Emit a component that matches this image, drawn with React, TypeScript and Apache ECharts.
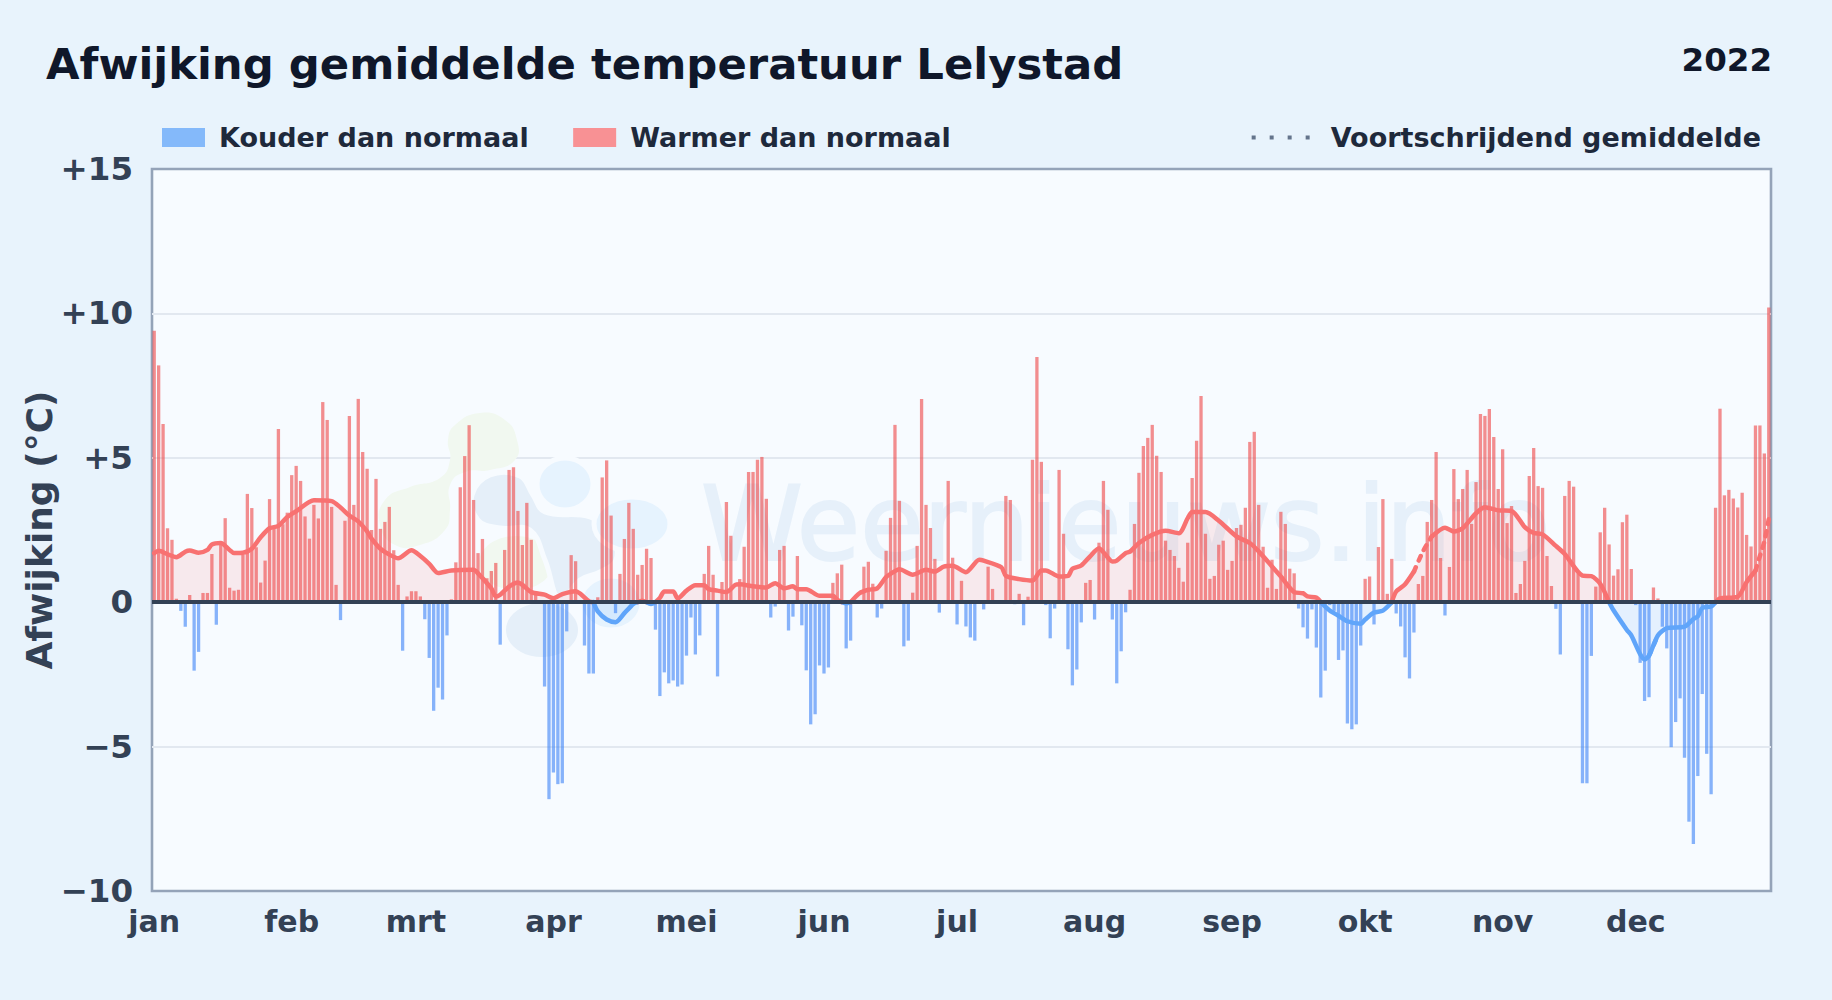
import React, { useEffect, useRef } from "react";
import * as echarts from "echarts";

const monthNames = ["jan", "feb", "mrt", "apr", "mei", "jun", "jul", "aug", "sep", "okt", "nov", "dec"];
const monthStarts = [0, 31, 59, 90, 120, 151, 181, 212, 243, 273, 304, 334];
const yTicks = [-10, -5, 0, 5, 10, 15];

const dailyDeviation = [
  9.4, 8.2, 6.17, 2.56, 2.16, 0.12, -0.3, -0.85, 0.25, -2.37,
  -1.72, 0.32, 0.32, 1.67, -0.78, 2.0, 2.91, 0.5, 0.4, 0.43,
  1.64, 3.75, 3.26, 1.9, 0.68, 1.44, 3.57, 2.6, 6.0, 2.7,
  3.1, 4.4, 4.72, 4.2, 2.97, 2.2, 3.37, 2.9, 6.93, 6.31,
  3.3, 0.6, -0.62, 2.82, 6.45, 3.37, 7.04, 5.2, 4.62, 2.5,
  4.27, 2.54, 2.78, 3.3, 1.8, 0.6, -1.68, 0.2, 0.38, 0.38,
  0.2, -0.59, -1.93, -3.76, -2.96, -3.37, -1.15, 0.1, 1.38, 3.98,
  5.06, 6.13, 3.54, 1.7, 2.19, 0.83, 1.08, 1.36, -1.47, 1.81,
  4.58, 4.67, 3.16, 1.98, 3.44, 2.16, 0.25, 0, -2.92, -6.82,
  -5.9, -6.3, -6.27, -1.01, 1.63, 1.42, 0, -1.5, -2.47, -2.47,
  0.17, 4.32, 4.91, 3.0, -0.38, 0.98, 2.19, 3.44, 2.54, 0.95,
  1.29, 1.85, 1.53, -0.95, -3.25, -2.43, -2.81, -2.71, -2.92, -2.85,
  -1.85, -0.53, -1.81, -1.15, 0.98, 1.95, 0.95, -2.57, 0.7, 3.47,
  2.3, 0, 0.8, 1.92, 4.51, 4.51, 4.93, 5.03, 3.58, -0.53,
  -0.15, 1.81, 1.95, -0.98, -0.5, 1.6, -0.8, -2.36, -4.23, -3.88,
  -2.19, -2.47, -2.26, 0.67, 1.0, 1.3, -1.6, -1.33, 0, 0,
  1.23, 1.4, 0.64, -0.53, -0.22, 1.78, 2.92, 6.14, 3.51, -1.53,
  -1.33, 0.33, 1.95, 7.04, 3.37, 2.57, 1.5, -0.36, -0.05, 4.2,
  1.54, -0.77, 0.74, -0.84, -1.22, -1.33, 0, -0.25, 1.23, 0.46,
  0, 0, 3.68, 3.54, -0.07, 0.29, -0.8, 0.19, 4.93, 8.49,
  4.86, -0.1, -1.25, -0.22, 4.58, 2.37, -1.63, -2.88, -2.33, -0.7,
  0.67, 0.77, -0.6, 2.06, 4.2, 3.2, -0.6, -2.81, -1.7, -0.35,
  0.43, 2.71, 4.48, 5.41, 5.69, 6.14, 5.07, 4.51, 2.13, 1.81,
  1.6, 1.19, 0.71, 2.06, 4.3, 5.59, 7.14, 2.37, 0.81, 0.91,
  1.99, 2.13, 1.12, 1.43, 2.57, 2.68, 3.27, 5.55, 5.9, 3.37,
  1.92, 0.5, 1.47, 0.46, 3.13, 2.71, 1.16, 1.0, -0.22, -0.87,
  -1.26, -0.25, -1.57, -3.3, -2.37, -0.1, -0.3, -2.0, -1.67, -4.2,
  -4.4, -4.23, -1.5, 0.81, 0.89, -0.77, 1.91, 3.57, 0.29, 1.5,
  -0.39, -0.84, -1.91, -2.64, -1.05, 0.63, 0.91, 2.78, 3.54, 5.2,
  1.53, -0.46, 1.22, 4.61, 3.57, 3.92, 4.58, 2.71, 4.16, 6.52,
  6.45, 6.69, 5.72, 3.92, 5.3, 2.74, 3.33, 0.32, 0.63, 1.43,
  4.37, 5.34, 4.02, 3.96, 1.6, 0.56, -0.23, -1.81, 3.68, 4.2,
  4.0, 1.0, -6.27, -6.27, -1.86, 0.54, 2.42, 3.27, 2.0, 0.92,
  1.14, 2.77, 3.03, 1.15, -0.1, -2.1, -3.42, -3.29, 0.51, 0.13,
  -0.85, -1.6, -5.02, -4.15, -3.33, -5.39, -7.6, -8.37, -6.02, -3.18,
  -5.25, -6.65, 3.27, 6.7, 3.7, 3.89, 3.59, 3.28, 3.79, 2.33,
  1.93, 6.12, 6.12, 5.15, 10.2,
];

const trendDays = [
  0, 1, 3, 5, 7, 8, 10, 12, 13, 15, 17, 18, 20, 22, 24, 26, 28, 30, 32, 36,
  40, 42, 44, 46, 48, 49, 51, 53, 55, 58, 60, 62, 64, 67, 72, 73, 76, 77, 78, 80,
  82, 83, 85, 88, 90, 92, 95, 96, 98, 99, 100, 102, 104, 106, 108, 109, 110, 111, 112, 113,
  114, 115, 117, 118, 120, 122, 124, 125, 127, 129, 131, 132, 135, 138, 140, 142, 144, 145, 147, 150,
  153, 154, 155, 156, 157, 159, 161, 163, 165, 166, 168, 171, 174, 176, 178, 180, 183, 186, 187, 191,
  192, 195, 198, 200, 201, 204, 206, 207, 209, 211, 213, 214, 216, 217, 219, 220, 222, 225, 228, 231,
  233, 234, 237, 240, 244, 247, 249, 252, 254, 257, 259, 260, 262, 263, 265, 267, 269, 272, 273, 275,
  277, 279, 280, 282, 284, 286, 288, 291, 293, 295, 298, 300, 303, 306, 309, 311, 313, 316, 318, 322,
  324, 326, 328, 329, 332, 333, 335, 336, 337, 339, 341, 345, 347, 348, 349, 351, 352, 353, 357, 359,
  361, 362, 363, 364,
];
const trendValues = [
  1.7, 1.78, 1.66, 1.56, 1.75, 1.79, 1.71, 1.81, 2.0, 2.05, 1.81, 1.7, 1.71, 1.85, 2.25, 2.56, 2.64, 2.95, 3.15, 3.53,
  3.5, 3.28, 3.0, 2.8, 2.45, 2.2, 1.85, 1.65, 1.52, 1.8, 1.6, 1.33, 1.01, 1.1, 1.12, 1.0, 0.48, 0.2, 0.26, 0.54,
  0.68, 0.6, 0.35, 0.26, 0.14, 0.28, 0.38, 0.3, 0.03, 0, -0.32, -0.6, -0.69, -0.38, -0.06, 0, 0.05, 0, -0.06, 0,
  0.15, 0.37, 0.37, 0.13, 0.4, 0.59, 0.59, 0.45, 0.4, 0.35, 0.6, 0.62, 0.55, 0.51, 0.66, 0.48, 0.55, 0.45, 0.45, 0.22,
  0.22, 0.08, 0, -0.04, 0, 0.31, 0.43, 0.48, 0.87, 0.98, 1.14, 0.95, 1.12, 1.06, 1.23, 1.26, 1.04, 1.47, 1.44, 1.21,
  0.91, 0.8, 0.75, 1.1, 1.1, 0.89, 0.91, 1.16, 1.27, 1.59, 1.87, 1.73, 1.41, 1.44, 1.7, 1.75, 2.05, 2.33, 2.47, 2.39,
  2.91, 3.12, 3.12, 2.82, 2.28, 2.05, 1.76, 1.24, 0.89, 0.35, 0.31, 0.2, 0.16, 0, -0.29, -0.47, -0.66, -0.75, -0.6, -0.36,
  -0.29, 0, 0.37, 0.62, 1.06, 1.75, 2.27, 2.58, 2.45, 2.56, 3.08, 3.29, 3.18, 3.16, 2.6, 2.4, 2.35, 1.95, 1.67, 0.92,
  0.9, 0.64, 0, -0.28, -0.96, -1.15, -1.8, -1.98, -1.85, -1.15, -0.9, -0.85, -0.58, -0.49, -0.2, -0.15, 0, 0.13, 0.19, 0.7,
  1.09, 1.6, 2.1, 2.88,
];
const dashedRanges = [[284, 288], [337, 339], [361, 364]];

const COLD = "Kouder dan normaal";
const WARM = "Warmer dan normaal";
const AVG = "Voortschrijdend gemiddelde";
const FONT = "DejaVu Sans";
const DOTS_ICON = "path://M0 0h4v4H0zM18 0h4v4h-4zM36 0h4v4h-4zM54 0h4v4h-4z";

const inDash = (d: number) => dashedRanges.some(([a, b]) => d >= a && d <= b);
const strictDash = (d: number) => dashedRanges.some(([a, b]) => d > a && d < b);

function trendSeries(name: string, test: (v: number) => boolean, color: string, fill: string) {
  const pts = (keep: (d: number, v: number) => boolean) =>
    trendDays.map((d, i) => [d, keep(d, trendValues[i]) ? trendValues[i] : null]);
  const base = { type: "line", symbol: "none", silent: true, connectNulls: false, z: 4, smooth: 0.25 };
  return [
    {
      ...base,
      name: name + " vlak",
      data: pts((_, v) => test(v)),
      lineStyle: { width: 0 },
      areaStyle: { color: fill },
      z: 1,
    },
    {
      ...base,
      name: name + " lijn",
      data: pts((d, v) => test(v) && !strictDash(d)),
      lineStyle: { color, width: 4.5, cap: "round", join: "round" },
    },
    {
      ...base,
      name: name + " onzeker",
      data: pts((d, v) => test(v) && inDash(d)),
      lineStyle: { color, width: 4.5, type: [5, 7], cap: "round", join: "round" },
    },
  ];
}

export default function App() {
  const ref = useRef<HTMLDivElement>(null);
  useEffect(() => {
    if (!ref.current) return;
    const chart = echarts.init(ref.current, undefined, { renderer: "svg" });
    const days = dailyDeviation.map((_, i) => String(i));
    const green = "#f1f8f0";
    const slate = "#e5eff9";
    const sky = "#e6f3fe";
    const halo = { stroke: "#f7fbff", lineWidth: 5 };
    chart.setOption({
      animation: false,
      backgroundColor: "#e8f3fc",
      textStyle: { fontFamily: FONT },
      title: [
        {
          text: "Afwijking gemiddelde temperatuur Lelystad",
          left: 41,
          top: 37,
          textStyle: { fontFamily: FONT, fontSize: 43.35, fontWeight: "bold", color: "#0f172a" },
        },
        {
          text: "2022",
          right: 55,
          top: 38,
          textStyle: { fontFamily: FONT, fontSize: 32.5, fontWeight: "bold", color: "#0f172a" },
        },
      ],
      legend: [
        {
          left: 157,
          top: 119,
          itemWidth: 43,
          itemHeight: 19,
          itemGap: 44.5,
          selectedMode: false,
          data: [
            { name: COLD, icon: "rect", itemStyle: { color: "#84b9fa", opacity: 1 } },
            { name: WARM, icon: "rect", itemStyle: { color: "#f89194", opacity: 1 } },
          ],
          textStyle: { fontFamily: FONT, fontSize: 27, fontWeight: "bold", color: "#1e293b", padding: [0, 0, 0, 9] },
        },
        {
          right: 66,
          top: 119,
          itemWidth: 58,
          itemHeight: 4,
          selectedMode: false,
          data: [{ name: AVG, icon: DOTS_ICON, itemStyle: { color: "#64748b", opacity: 1 } }],
          textStyle: { fontFamily: FONT, fontSize: 27, fontWeight: "bold", color: "#1e293b", padding: [0, 0, 0, 16] },
        },
      ],
      grid: {
        left: 152,
        right: 61,
        top: 169,
        bottom: 109,
        show: true,
        backgroundColor: "#f7fbff",
        borderColor: "#94a3b8",
        borderWidth: 2.6,
      },
      xAxis: {
        type: "category",
        data: days,
        boundaryGap: true,
        axisLine: { show: false },
        axisTick: { show: false },
        splitLine: { show: false },
        axisLabel: {
          margin: 15,
          fontFamily: FONT,
          fontSize: 30,
          fontWeight: "bold",
          color: "#334155",
          interval: (i: number) => monthStarts.includes(i),
          formatter: (_: string, i: number) => monthNames[monthStarts.indexOf(i)] ?? "",
        },
      },
      yAxis: {
        type: "value",
        min: yTicks[0],
        max: yTicks[yTicks.length - 1],
        interval: 5,
        name: "Afwijking (°C)",
        nameLocation: "middle",
        nameGap: 95,
        nameMoveOverlap: false,
        nameTextStyle: { fontFamily: FONT, fontSize: 36, fontWeight: "bold", color: "#334155" },
        axisLine: { show: false },
        axisTick: { show: false },
        splitLine: { showMinLine: false, showMaxLine: false, lineStyle: { color: "#e2e8f0", width: 2 } },
        axisLabel: {
          margin: 19,
          fontFamily: FONT,
          fontSize: 32.5,
          fontWeight: "bold",
          color: "#334155",
          formatter: (v: number) => (v > 0 ? `+${v}` : v < 0 ? `\u2212${-v}` : "0"),
        },
      },
      graphic: {
        elements: [
          {
            type: "group",
            silent: true,
            z: 1,
            children: [
              {
                type: "polygon", z: 1,
                shape: { smooth: 0.5, points: [[455, 425], [480, 413], [505, 420], [517, 440], [515, 460], [490, 470], [465, 472], [450, 485], [450, 510], [445, 530], [420, 545], [395, 545], [380, 525], [385, 500], [410, 487], [440, 478], [450, 460], [448, 440]] },
                style: { fill: green },
              },
              { type: "ellipse", z: 1, shape: { cx: 516, cy: 563, rx: 37, ry: 27 }, style: { fill: green } },
              {
                type: "polygon", z: 1,
                shape: { smooth: 0.4, points: [[472, 495], [490, 475], [520, 476], [533, 495], [545, 512], [590, 517], [612, 535], [616, 560], [600, 572], [580, 580], [560, 600], [545, 560], [530, 530], [500, 528], [478, 520]] },
                style: { fill: slate, ...halo },
              },
              { type: "ellipse", z: 1, shape: { cx: 542, cy: 630, rx: 36, ry: 27 }, style: { fill: slate } },
              { type: "ellipse", z: 1, shape: { cx: 565, cy: 484, rx: 28, ry: 26 }, style: { fill: sky, ...halo } },
              { type: "ellipse", z: 1, shape: { cx: 632, cy: 524, rx: 38, ry: 27 }, style: { fill: sky, ...halo } },
              { type: "ellipse", z: 1, shape: { cx: 611, cy: 603, rx: 31, ry: 27 }, style: { fill: sky, ...halo } },
              {
                type: "text", z: 1, x: 701, y: 472,
                style: { text: "Weernieuws.info", fontFamily: FONT, fontSize: 103, fill: "#e6f0fa", stroke: "#e6f0fa", lineWidth: 2, fontWeight: "normal" },
              },
            ],
          },
        ],
      },
      series: [
        ...trendSeries("Warm", (v) => v >= 0, "#f87171", "rgba(248,113,113,0.18)"),
        ...trendSeries("Koud", (v) => v <= 0, "#60a5fa", "rgba(96,165,250,0.18)"),
        {
          name: COLD,
          type: "bar",
          barWidth: 3.3,
          barGap: "-100%",
          z: 2,
          itemStyle: { color: "rgba(59,130,246,0.6)" },
          data: dailyDeviation.map((v) => (v < 0 ? v : null)),
        },
        {
          name: WARM,
          type: "bar",
          barWidth: 3.3,
          barGap: "-100%",
          z: 2,
          itemStyle: { color: "rgba(239,68,68,0.6)" },
          data: dailyDeviation.map((v) => (v > 0 ? v : null)),
          markLine: {
            silent: true,
            symbol: "none",
            label: { show: false },
            lineStyle: { color: "#334155", width: 4, type: "solid" },
            data: [{ yAxis: 0 }],
          },
        },
        {
          name: AVG,
          type: "line",
          symbol: "none",
          data: [],
          color: "#64748b",
        },
      ],
    });
    return () => chart.dispose();
  }, []);
  return <div ref={ref} style={{ position: "fixed", left: 0, top: 0, width: 1832, height: 1000 }} />;
}
